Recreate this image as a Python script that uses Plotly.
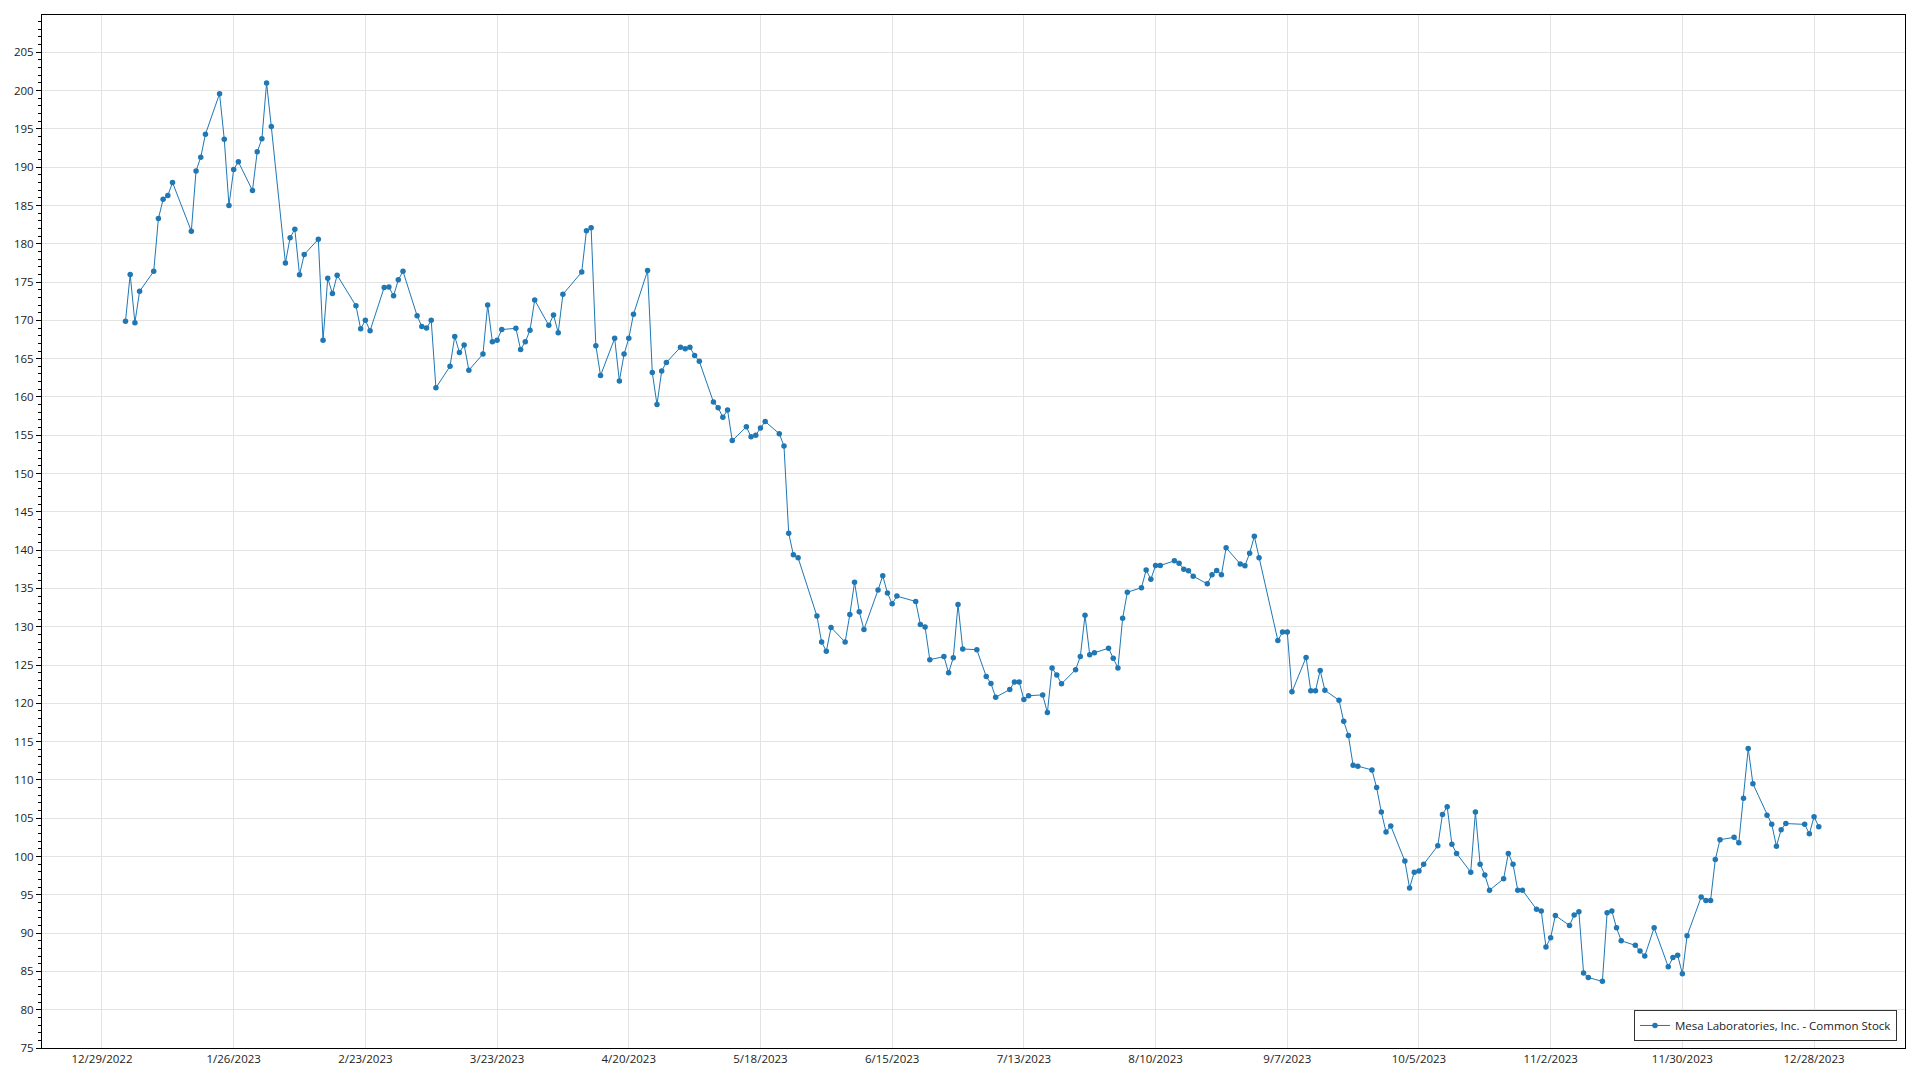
import pandas as pd
import plotly.graph_objects as go

# Closing prices, one list per month (2023 trading days)
jan = [169.9, 176.0, 169.7, 173.8, 176.4, 183.3, 185.8, 186.3, 188.0, 181.65,
       189.5, 191.3, 194.3, 199.6, 193.65, 185.0, 189.7, 190.7, 186.96, 192.0]
feb = [193.7, 201.0, 195.3, 177.5, 180.8, 181.9, 175.96, 178.6, 180.6, 167.4,
       175.5, 173.5, 175.9, 171.9, 168.9, 170.0, 168.65, 174.3, 174.35]
mar = [173.2, 175.3, 176.4, 170.6, 169.2, 169.0, 170.0, 161.2, 164.0, 167.9,
       165.8, 166.8, 163.5, 165.6, 172.0, 167.2, 167.4, 168.8, 168.96, 166.2,
       167.2, 168.7, 172.65]
apr = [169.35, 170.7, 168.4, 173.4, 176.3, 181.7, 182.1, 166.7, 162.8, 167.65,
       162.1, 165.6, 167.65, 170.8, 176.5, 163.2, 159.0, 163.4, 164.5]
may = [166.5, 166.3, 166.5, 165.4, 164.65, 159.35, 158.6, 157.35, 158.3, 154.3,
       156.1, 154.8, 155.0, 155.95, 156.8, 155.2, 153.6, 142.2, 139.4, 139.0,
       131.4, 128.0]
jun = [126.8, 129.9, 128.0, 131.6, 135.8, 131.96, 129.65, 134.8, 136.65, 134.4,
       133.0, 134.0, 133.3, 130.3, 129.96, 125.7, 126.1, 124.0, 125.96, 132.9,
       127.1]
jul = [127.0, 123.5, 122.6, 120.8, 121.8, 122.8, 122.8, 120.5, 121.0, 121.1,
       118.8, 124.6, 123.7, 122.55, 124.4, 126.1, 131.5, 126.35, 126.6, 127.2]
aug = [125.9, 124.6, 131.1, 134.5, 135.1, 137.4, 136.2, 138.0, 138.0, 138.6,
       138.3, 137.5, 137.3, 136.6, 135.6, 136.8, 137.35, 136.8, 140.3, 138.2,
       137.96, 139.6, 141.8]
sep = [139.0, 128.2, 129.3, 129.3, 121.5, 126.0, 121.65, 121.65, 124.3, 121.7,
       120.4, 117.65, 115.8, 111.9, 111.8, 111.3, 109.0, 105.8, 103.2, 104.0]
oct_ = [99.4, 95.9, 97.96, 98.1, 99.0, 101.4, 105.5, 106.5, 101.6, 100.4,
        97.96, 105.8, 99.0, 97.6, 95.6, 97.1, 100.4, 99.0, 95.6, 95.6,
        93.1, 92.9]
nov = [88.2, 89.4, 92.3, 91.0, 92.35, 92.8, 84.8, 84.2, 83.7, 92.65,
       92.9, 90.7, 89.0, 88.4, 87.65, 87.0, 90.7, 85.6, 86.8, 87.1, 84.7]
dec = [89.65, 94.7, 94.26, 94.26, 99.6, 102.2, 102.5, 101.8, 107.6, 114.1,
       109.5, 105.4, 104.2, 101.35, 103.5, 104.3, 104.2, 102.96, 105.2, 103.9]

closes = jan + feb + mar + apr + may + jun + jul + aug + sep + oct_ + nov + dec

market_holidays = ["2023-01-02", "2023-01-16", "2023-02-20", "2023-04-07",
                   "2023-05-29", "2023-06-19", "2023-07-04", "2023-09-04",
                   "2023-11-23", "2023-12-25"]
dates = pd.bdate_range("2023-01-03", "2023-12-29", freq="C", holidays=market_holidays)

tick_dates = pd.date_range("2022-12-29", "2023-12-28", freq="28D")
tick_text = [f"{d.month}/{d.day}/{d.year}" for d in tick_dates]

series_name = "Mesa Laboratories, Inc. - Common Stock"
color = "#1f77b4"
font_family = "Segoe UI, Open Sans, sans-serif"

fig = go.Figure()
fig.add_trace(go.Scatter(
    x=dates, y=closes, mode="lines+markers", name=series_name,
    line=dict(color=color, width=1),
    marker=dict(color=color, size=5.5),
    showlegend=True,
))

# page body has an 8px margin, so the figure is sized to fit inside the window
fig.update_layout(
    width=1904, height=1064,
    margin=dict(l=31, r=6, t=7, b=23),
    paper_bgcolor="white", plot_bgcolor="white",
    font=dict(family=font_family, size=11.5, color="#222222"),
    showlegend=True,
    legend=dict(
        x=0.9957, y=0.0068, xanchor="right", yanchor="bottom",
        bgcolor="white", bordercolor="#333333", borderwidth=1,
        font=dict(family=font_family, size=11.5, color="#222222"),
        itemwidth=30,
    ),
    xaxis=dict(
        range=["2022-12-16 06:00", "2024-01-16 08:00"],
        tickmode="array", tickvals=tick_dates, ticktext=tick_text,
        showgrid=True, gridcolor="#e3e3e3", gridwidth=1,
        showline=True, linecolor="black", linewidth=1, mirror=True,
        ticks="", zeroline=False,
    ),
    yaxis=dict(
        range=[75, 209.87], dtick=5, tick0=75,
        showgrid=True, gridcolor="#e3e3e3", gridwidth=1,
        showline=True, linecolor="black", linewidth=1, mirror=True,
        ticks="outside", ticklen=5, tickcolor="black", tickwidth=1,
        minor=dict(dtick=1, ticks="outside", ticklen=3, tickcolor="black", showgrid=False),
        zeroline=False,
    ),
)

fig.write_html("out.html")
